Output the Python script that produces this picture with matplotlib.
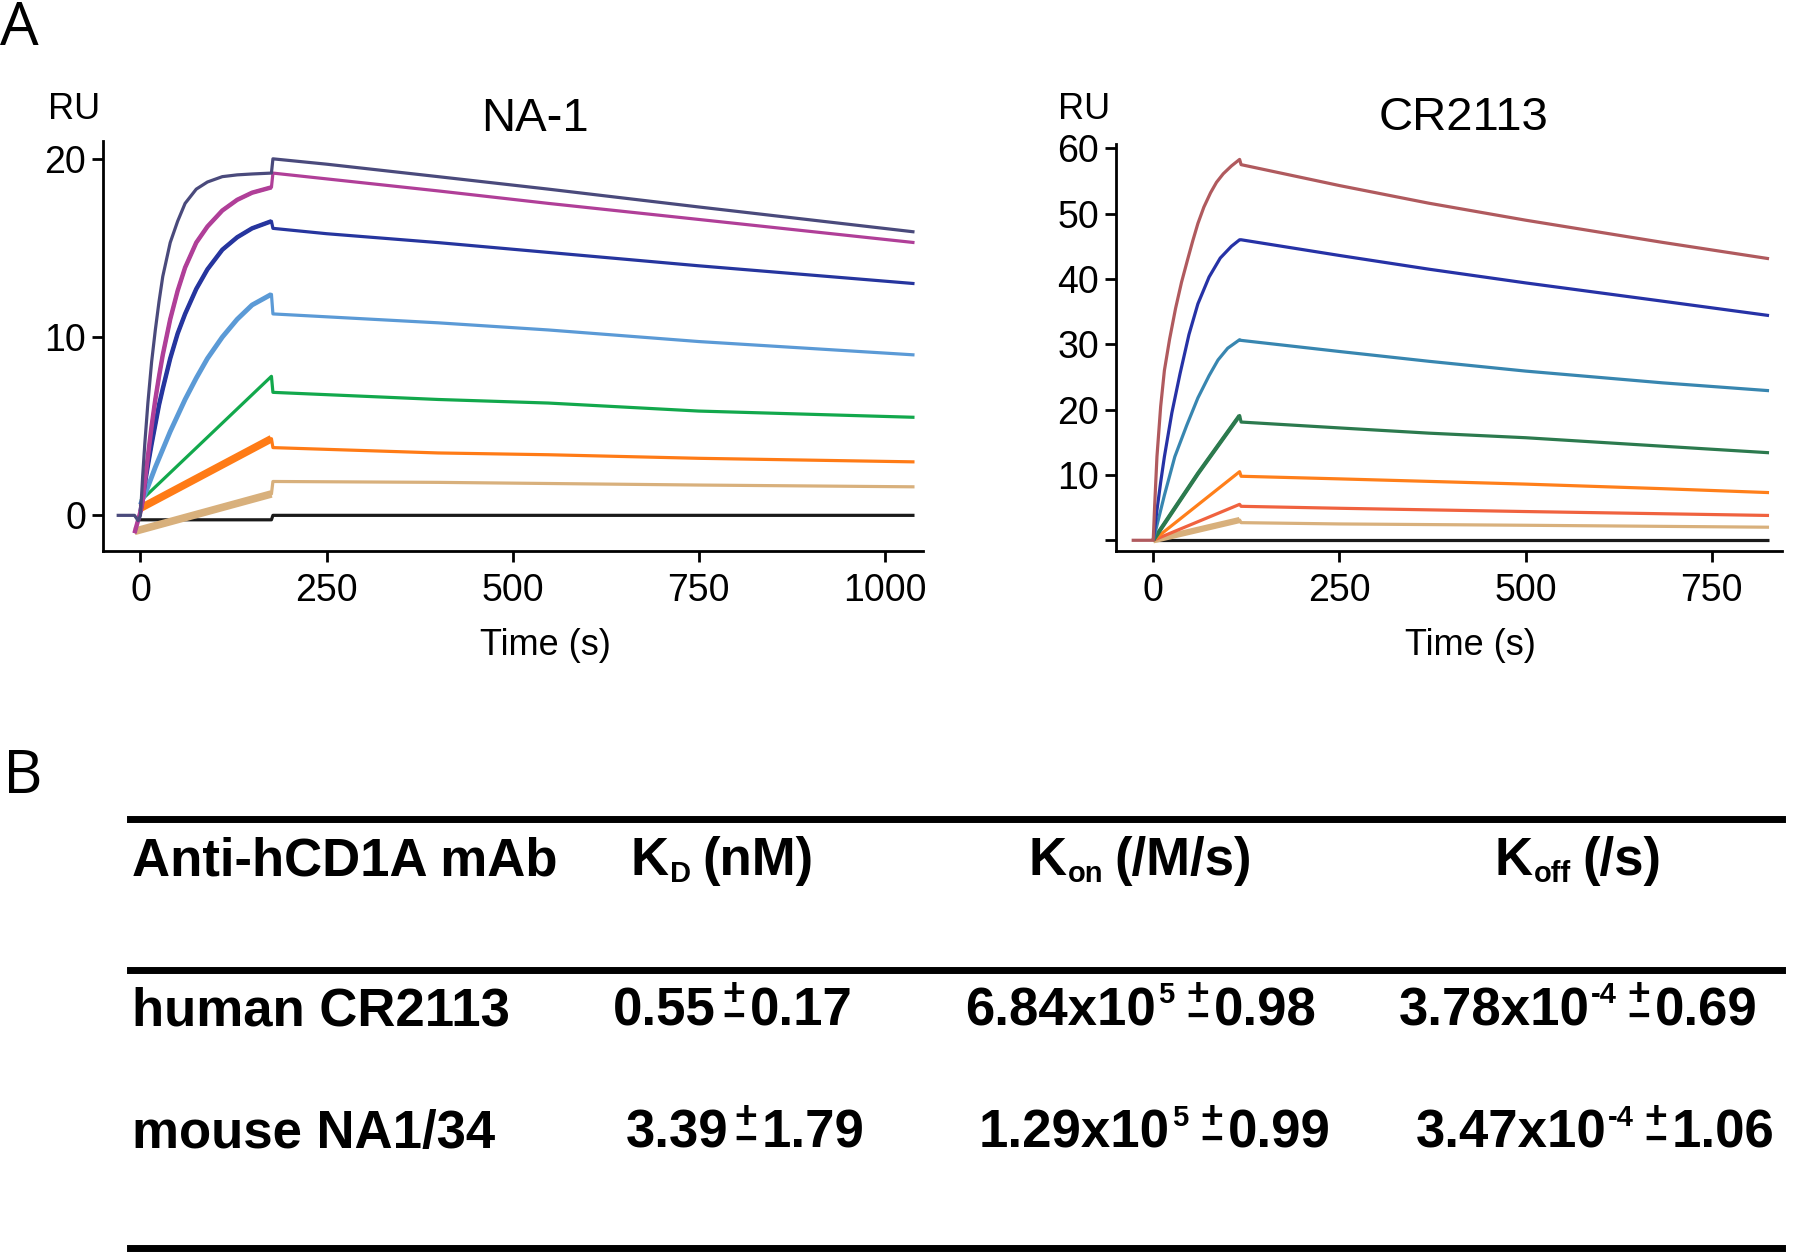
import matplotlib
matplotlib.use("Agg")
import matplotlib.pyplot as plt
import numpy as np

plt.rcParams["font.family"] = ["Liberation Sans", "DejaVu Sans"]

# ---- panel A, NA-1 sensorgrams (time s, RU) ----
na1_navy_t = [-32, -8, -3, 0, 3, 6, 10, 15, 20, 25, 30, 40, 50, 60, 75, 90, 110, 130, 150, 176,
              178, 250, 400, 548, 750, 1040]
na1_navy_ru = [0, 0, -0.3, 0, 2.2, 4.1, 6.3, 8.6, 10.4, 12.0, 13.4, 15.3, 16.5, 17.5, 18.3, 18.7,
               19.0, 19.1, 19.15, 19.2, 20.0, 19.7, 19.0, 18.3, 17.3, 15.9]
na1_magenta_t = [-8, -4, 0, 3, 6, 10, 15, 20, 25, 30, 40, 50, 60, 75, 90, 110, 130, 150, 176,
                 178, 400, 548, 750, 1040]
na1_magenta_ru = [-1.0, -0.4, 0.2, 0.8, 1.9, 3.3, 5.0, 6.5, 7.8, 9.0, 11.0, 12.6, 13.9, 15.3, 16.2,
                  17.1, 17.7, 18.1, 18.4, 19.2, 18.2, 17.5, 16.6, 15.3]
na1_blue_t = [0, 3, 6, 10, 15, 20, 25, 30, 40, 50, 60, 75, 90, 110, 130, 150, 176,
              178, 250, 400, 548, 750, 1040]
na1_blue_ru = [0.2, 1.0, 1.8, 2.8, 4.0, 5.1, 6.2, 7.1, 8.8, 10.2, 11.3, 12.7, 13.8, 14.9, 15.6, 16.1,
               16.5, 16.1, 15.8, 15.3, 14.75, 14.0, 13.0]
na1_lightblue_t = [0, 10, 20, 30, 40, 50, 60, 75, 90, 110, 130, 150, 176, 178, 400, 548, 750, 1040]
na1_lightblue_ru = [0.6, 1.6, 2.7, 3.7, 4.7, 5.6, 6.5, 7.7, 8.8, 10.0, 11.0, 11.8, 12.4,
                    11.3, 10.8, 10.4, 9.75, 9.0]
na1_green_t = [0, 176, 178, 400, 548, 750, 1040]
na1_green_ru = [0.8, 7.8, 6.9, 6.5, 6.3, 5.85, 5.5]
na1_orange_t = [0, 176, 178, 400, 548, 750, 1040]
na1_orange_ru = [0.4, 4.3, 3.8, 3.5, 3.4, 3.2, 3.0]
na1_tan_t = [-8, 176, 178, 400, 750, 1040]
na1_tan_ru = [-0.9, 1.2, 1.9, 1.85, 1.7, 1.6]
na1_black_t = [-1, 176, 178, 1040]
na1_black_ru = [-0.25, -0.25, 0, 0]

# ---- panel A, CR2113 sensorgrams ----
cr_brown_t = [-29, 0, 2, 5, 10, 15, 22, 30, 38, 46, 53, 60, 68, 77, 85, 94, 105, 116,
              118, 250, 370, 500, 684, 827]
cr_brown_ru = [0, 0, 5.5, 12.8, 20.5, 26.0, 30.8, 35.5, 39.5, 42.9, 45.8, 48.5, 51.0, 53.2, 54.8,
               56.1, 57.3, 58.3, 57.5, 54.3, 51.6, 49.0, 45.6, 43.1]
cr_blue_t = [0, 5, 10, 15, 25, 36, 48, 60, 75, 90, 105, 116, 118, 250, 370, 500, 684, 827]
cr_blue_ru = [0, 4.6, 8.9, 12.8, 19.5, 25.5, 31.5, 36.2, 40.3, 43.2, 45.0, 46.0,
              46.0, 43.6, 41.5, 39.4, 36.6, 34.4]
cr_teal_t = [0, 15, 29, 45, 60, 75, 87, 100, 116, 118, 250, 370, 500, 684, 827]
cr_teal_ru = [0, 6.9, 12.8, 17.6, 21.8, 25.2, 27.6, 29.4, 30.7, 30.6, 28.9, 27.4, 25.9, 24.1, 22.9]
cr_green_t = [0, 60, 116, 118, 250, 370, 500, 684, 827]
cr_green_ru = [0, 10.2, 19.1, 18.1, 17.2, 16.4, 15.7, 14.4, 13.4]
cr_orange_t = [0, 116, 118, 250, 500, 684, 827]
cr_orange_ru = [0, 10.5, 9.8, 9.4, 8.6, 7.9, 7.3]
cr_red_t = [0, 116, 118, 250, 500, 827]
cr_red_ru = [0, 5.5, 5.2, 4.9, 4.4, 3.8]
cr_tan_t = [0, 116, 118, 250, 500, 827]
cr_tan_ru = [0, 3.1, 2.7, 2.5, 2.3, 2.0]
cr_black_t = [0, 827]
cr_black_ru = [0, 0]

# ---- panel B table ----
antibodies = ["human CR2113", "mouse NA1/34"]
kd_mean = ["0.55", "3.39"]
kd_err = ["0.17", "1.79"]
kon_mean = ["6.84", "1.29"]
kon_exp = ["5", "5"]
kon_err = ["0.98", "0.99"]
koff_mean = ["3.78", "3.47"]
koff_exp = ["-4", "-4"]
koff_err = ["0.69", "1.06"]

W, H = 1800, 1256
fig = plt.figure(figsize=(W / 100, H / 100), dpi=100)
renderer = fig.canvas.get_renderer()


def fx(px):
    return px / W


def fy(py):
    return 1 - py / H


def style_axes(ax):
    for side in ("top", "right"):
        ax.spines[side].set_visible(False)
    for side in ("left", "bottom"):
        ax.spines[side].set_linewidth(2.0)
    ax.tick_params(direction="out", length=8, width=2.0, labelsize=27, pad=4)
    ax.tick_params(axis="x", pad=8)


def draw(ax, t, ru, color, lw=2.3, assoc_lw=None, t_end=None):
    t = np.asarray(t, float)
    ru = np.asarray(ru, float)
    ax.plot(t, ru, color=color, lw=lw, solid_joinstyle="round", solid_capstyle="butt")
    if assoc_lw is not None:
        m = t <= t_end
        ax.plot(t[m], ru[m], color=color, lw=assoc_lw, solid_capstyle="butt")


# left panel
ax1 = fig.add_axes([fx(103), fy(551), fx(922.7 - 103), (551 - 141) / H])
style_axes(ax1)
draw(ax1, na1_black_t, na1_black_ru, "#1a1a1a")
draw(ax1, na1_tan_t, na1_tan_ru, "#d8b07c", assoc_lw=5.5, t_end=176)
draw(ax1, na1_orange_t, na1_orange_ru, "#ff7b16", assoc_lw=5.5, t_end=176)
draw(ax1, na1_green_t, na1_green_ru, "#12a84c")
draw(ax1, na1_lightblue_t, na1_lightblue_ru, "#5b9ad6", assoc_lw=3.5, t_end=176)
draw(ax1, na1_blue_t, na1_blue_ru, "#26359e", assoc_lw=3.2, t_end=176)
draw(ax1, na1_magenta_t, na1_magenta_ru, "#b03f98", assoc_lw=3.2, t_end=176)
draw(ax1, na1_navy_t, na1_navy_ru, "#4a4a7c")
ax1.set_xlim(-50.3, 1051)
ax1.set_ylim(-2.0, 21.0)
ax1.set_xticks([0, 250, 500, 750, 1000])
ax1.set_yticks([0, 10, 20])

# right panel
ax2 = fig.add_axes([fx(1116), fy(551), fx(1781.7 - 1116), (551 - 144) / H])
style_axes(ax2)
draw(ax2, cr_black_t, cr_black_ru, "#1a1a1a")
draw(ax2, cr_tan_t, cr_tan_ru, "#d8b07c", assoc_lw=4.5, t_end=116)
draw(ax2, cr_red_t, cr_red_ru, "#f0623f")
draw(ax2, cr_orange_t, cr_orange_ru, "#ff7f1a")
draw(ax2, cr_green_t, cr_green_ru, "#2c7a4e", assoc_lw=3.0, t_end=116)
draw(ax2, cr_teal_t, cr_teal_ru, "#3886b0")
draw(ax2, cr_blue_t, cr_blue_ru, "#2632a6")
draw(ax2, cr_brown_t, cr_brown_ru, "#b05a5e")
ax2.set_xlim(-50, 844)
ax2.set_ylim(-1.64, 60.66)
ax2.set_xticks([0, 250, 500, 750])
ax2.set_yticks([0, 10, 20, 30, 40, 50, 60])
ax2.set_yticklabels(["", "10", "20", "30", "40", "50", "60"])

# axis titles and labels
fig.text(fx(48), fy(119), "RU", fontsize=26, ha="left", va="baseline")
fig.text(fx(1058), fy(119), "RU", fontsize=26, ha="left", va="baseline")
fig.text(fx(535), fy(131), "NA-1", fontsize=34, ha="center", va="baseline")
fig.text(fx(1464), fy(130), "CR2113", fontsize=34, ha="center", va="baseline")
fig.text(fx(545), fy(655), "Time (s)", fontsize=26, ha="center", va="baseline")
fig.text(fx(1470), fy(655), "Time (s)", fontsize=26, ha="center", va="baseline")

# panel letters
fig.text(fx(0), fy(45), "A", fontsize=44, ha="left", va="baseline", family=["Open Sans", "DejaVu Sans"])
fig.text(fx(3), fy(793), "B", fontsize=44, ha="left", va="baseline", family=["Open Sans", "DejaVu Sans"])

# table rules
for y in (818.5, 970, 1248):
    fig.add_artist(plt.Line2D([fx(130), fx(1782)], [fy(y), fy(y)], color="black", lw=5.0,
                              transform=fig.transFigure))

BIG, SUB, SUP, PM = 38, 21, 21, 28


def text_width(s, size, **kw):
    t = fig.text(0, 0, s, fontsize=size, fontweight="bold", **kw)
    w = t.get_window_extent(renderer).width
    t.remove()
    return w


def compose(x, baseline, parts, align="center"):
    # parts: (text, size, rise_px, gap_before_px)
    placed, pos = [], 0.0
    for s, size, rise, gap in parts:
        kw = dict(linespacing=0.53, multialignment="center") if "\n" in s else {}
        w = text_width(s, size, **kw)
        left = pos + gap
        placed.append((s, size, rise, left, kw))
        pos = left + w
    x0 = x - pos / 2 if align == "center" else x
    for s, size, rise, left, kw in placed:
        fig.text(fx(x0 + left), fy(baseline - rise), s, fontsize=size, fontweight="bold",
                 ha="left", va="baseline", **kw)


def plus_minus(gap):
    # "+" raised above a "-", drawn as one stacked label (anchored on the "-" line)
    return [("+\n\u2212", PM, -3, gap)]


# header
head_y = 875
compose(132, head_y, [("Anti-hCD1A mAb", BIG, 0, 0)], align="left")
compose(722, head_y, [("K", BIG, 0, 0), ("D", SUB, -7, 1), ("(nM)", BIG, 0, 11)])
compose(1140, head_y, [("K", BIG, 0, 0), ("on", SUB, -7, 1), ("(/M/s)", BIG, 0, 11)])
compose(1578, head_y, [("K", BIG, 0, 0), ("off", SUB, -7, 1), ("(/s)", BIG, 0, 11)])

row_base = [1025, 1148]
row_centers = [[733, 1141, 1578], [745, 1155, 1595]]
for i, name in enumerate(antibodies):
    y = row_base[i]
    cx = row_centers[i]
    compose(132, y, [(name, BIG, 0, 0)], align="left")
    compose(cx[0], y, [(kd_mean[i], BIG, 0, 0)] + plus_minus(6) + [(kd_err[i], BIG, 0, 5)])
    compose(cx[1], y, [(kon_mean[i] + "x10", BIG, 0, 0), (kon_exp[i], SUP, 22, 2)]
            + plus_minus(12) + [(kon_err[i], BIG, 0, 5)])
    compose(cx[2], y, [(koff_mean[i] + "x10", BIG, 0, 0), (koff_exp[i], SUP, 22, 2)]
            + plus_minus(10) + [(koff_err[i], BIG, 0, 5)])

fig.savefig("out.png", dpi=100)
